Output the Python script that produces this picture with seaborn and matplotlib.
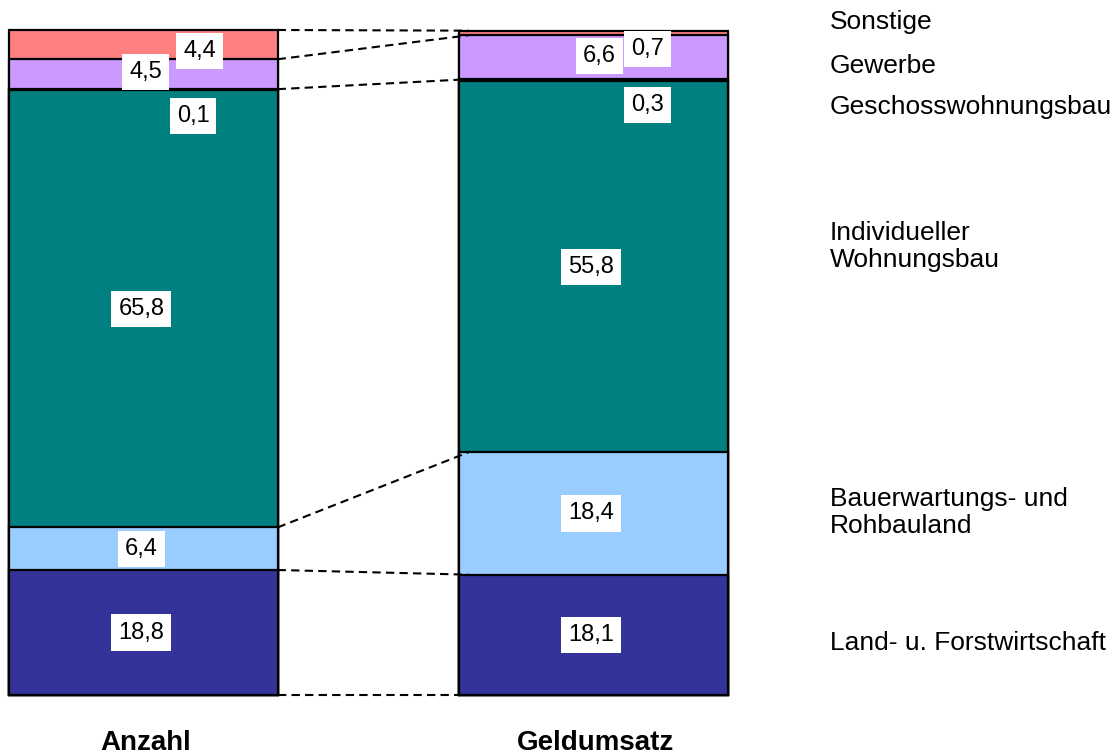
import pandas as pd
import seaborn as sns
import matplotlib.pyplot as plt

# categories (bottom to top) and shares in percent
kategorien = ['Land- u. Forstwirtschaft', 'Bauerwartungs- und\nRohbauland',
              'Individueller\nWohnungsbau', 'Geschosswohnungsbau', 'Gewerbe', 'Sonstige']
balken = ['Anzahl', 'Geldumsatz']
anzahl = [18.8, 6.4, 65.8, 0.1, 4.5, 4.4]
geldumsatz = [18.1, 18.4, 55.8, 0.3, 6.6, 0.7]
farben = ['#333399', '#99ccff', '#008080', '#1a1a4d', '#cc99ff', '#ff8080']

# label placement for the thin segments (x, y in data units), others sit at the segment centre
label_pos = {
    ('Anzahl', 3): (0.11, 87.1), ('Anzahl', 4): (0.005, 93.7), ('Anzahl', 5): (0.125, 96.8),
    ('Geldumsatz', 3): (1.12, 88.7), ('Geldumsatz', 4): (1.013, 96.1), ('Geldumsatz', 5): (1.12, 97.1),
}
legend_y = [7.8, 27.5, 67.5, 88.4, 94.6, 101.2]

sns.set_style('white')
plt.rcParams['font.family'] = ['Liberation Sans', 'DejaVu Sans']
plt.rcParams['text.color'] = 'black'

df = pd.DataFrame({'Balken': balken * len(kategorien),
                   'Kategorie': [k for k in kategorien for _ in balken],
                   'Wert': [v for pair in zip(anzahl, geldumsatz) for v in pair]})
df['kum'] = df.groupby('Balken')['Wert'].cumsum()

fig = plt.figure(figsize=(11.17, 7.56), dpi=100)
ax = fig.add_axes([0, 0, 1, 1])
breite = 0.596

# stacked bars: draw cumulative totals from top to bottom
for i in reversed(range(len(kategorien))):
    sub = df[df['Kategorie'] == kategorien[i]]
    sns.barplot(data=sub, x='Balken', y='kum', order=balken, color=farben[i],
                saturation=1, width=breite, edgecolor='black', linewidth=1.6,
                errorbar=None, ax=ax)

# dashed connector lines between the bars
kl = [0] + list(df[df['Balken'] == 'Anzahl']['kum'])
kr = [0] + list(df[df['Balken'] == 'Geldumsatz']['kum'])
for j in [0, 1, 2, 4, 5, 6]:
    ax.plot([breite / 2, 1 - breite / 2 + 0.02], [kl[j], kr[j]],
            color='black', ls=(0, (4, 2.5)), lw=1.5, zorder=5)

# value labels
for b_idx, name in enumerate(balken):
    sub = df[df['Balken'] == name].reset_index(drop=True)
    for i, row in sub.iterrows():
        if (name, i) in label_pos:
            x, y = label_pos[(name, i)]
        else:
            x, y = b_idx - 0.005, row['kum'] - row['Wert'] / 2
        ax.text(x, y, f"{row['Wert']:.1f}".replace('.', ','), ha='center', va='center',
                fontsize=17, zorder=6,
                bbox=dict(boxstyle='square,pad=0.3', fc='white', ec='none'))

# bar titles
for b_idx, name in enumerate(balken):
    ax.text(b_idx + 0.005, -8.3, name, ha='center', va='baseline',
            fontsize=20, fontweight='bold')

# category names on the right
for k, y in zip(kategorien, legend_y):
    ax.text(1.5256, y, k, ha='left', va='center', fontsize=19, linespacing=1.15)

ax.set_xlim(-0.3189, 2.1633)
ax.set_ylim(-9.17, 104.51)
ax.axis('off')

fig.savefig('out.png', dpi=100)
